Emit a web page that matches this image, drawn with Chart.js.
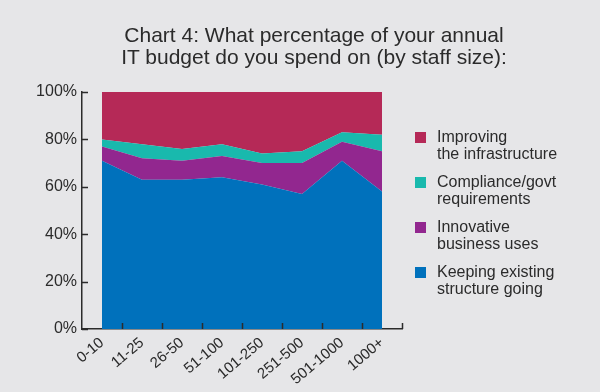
<!DOCTYPE html>
<html>
<head>
<meta charset="utf-8">
<script src="https://cdn.jsdelivr.net/npm/chart.js@4.4.1/dist/chart.umd.min.js"></script>
<style>
  body { margin: 0; background: #e6e6e8; }
  #wrap { position: relative; width: 600px; height: 392px; background: #e6e6e8; overflow: hidden;
          font-family: "Liberation Sans", Arial, sans-serif; color: #2b2b2b; }
  #title { position: absolute; left: 0; width: 628px; top: 24px; text-align: center;
           font-size: 21px; line-height: 22px; }
  #legend { position: absolute; left: 415px; top: 128px; }
  .item { position: relative; height: 45px; padding-left: 22px; font-size: 16px; line-height: 17px; }
  .sw { position: absolute; left: 0; top: 4px; width: 11px; height: 11px; }
  canvas { position: absolute; left: 0; top: 0; }
</style>
</head>
<body>
<div id="wrap">
  <canvas id="chart4" width="600" height="392"></canvas>
  <div id="title">Chart 4: What percentage of your annual<br>IT budget do you spend on (by staff size):</div>
  <div id="legend"></div>
</div>
<script>
// staff size bands
let sizes = ["0-10", "11-25", "26-50", "51-100", "101-250", "251-500", "501-1000", "1000+"];

// share of budget, in percent
let keeping = [71, 63, 63, 64, 61, 57, 71, 58];
let innovative = [6, 9, 8, 9, 9, 13, 8, 17];
let compliance = [3, 6, 5, 5, 4, 5, 4, 7];
let improving = [20, 22, 24, 22, 26, 25, 17, 18];

let yTicks = [0, 20, 40, 60, 80, 100];

let colors = {
    keeping: "#0071bc",
    innovative: "#92278f",
    compliance: "#19b9ad",
    improving: "#b52957"
};

function area(label, data, color, fill) {
    return {
        label: label,
        data: data,
        backgroundColor: color,
        borderColor: color,
        borderWidth: 0,
        pointRadius: 0,
        tension: 0,
        fill: fill
    };
}

// little tick marks pointing into the plot
let innerTicks = {
    id: "innerTicks",
    afterDraw(chart) {
        let c = chart.ctx;
        let x = chart.scales.x;
        let y = chart.scales.y;
        let area = chart.chartArea;
        c.save();
        c.strokeStyle = "#2b2b2b";
        c.lineWidth = 1.5;
        c.beginPath();
        for (let v of yTicks) {
            let py = Math.round(y.getPixelForValue(v)) + 0.5;
            c.moveTo(area.left, py);
            c.lineTo(area.left + 6, py);
        }
        for (let i = 1; i <= sizes.length; i++) {
            let px = i < sizes.length
                ? (x.getPixelForValue(i - 1) + x.getPixelForValue(i)) / 2
                : area.right;
            px = Math.round(px) + 0.5;
            c.moveTo(px, area.bottom);
            c.lineTo(px, area.bottom - 6);
        }
        c.stroke();
        c.restore();
    }
};

let ctx = document.getElementById("chart4").getContext("2d");
let chart4 = new Chart(ctx, {
    type: "line",
    data: {
        labels: sizes,
        datasets: [
            area("Keeping existing structure going", keeping, colors.keeping, "origin"),
            area("Innovative business uses", innovative, colors.innovative, "-1"),
            area("Compliance/govt requirements", compliance, colors.compliance, "-1"),
            area("Improving the infrastructure", improving, colors.improving, "-1")
        ]
    },
    options: {
        responsive: false,
        animation: false,
        devicePixelRatio: 1,
        layout: { padding: { top: 92, right: 198, left: 0, bottom: 0 } },
        plugins: { legend: { display: false }, title: { display: false }, tooltip: { enabled: false } },
        scales: {
            x: {
                offset: true,
                grid: { display: false, drawTicks: false },
                border: { display: true, color: "#2b2b2b", width: 1.5 },
                ticks: {
                    color: "#2b2b2b",
                    font: { family: "Liberation Sans", size: 15 },
                    minRotation: 40,
                    maxRotation: 40,
                    padding: 5
                },
                afterFit(s) { s.height = 63; }
            },
            y: {
                stacked: true,
                min: 0,
                max: 100,
                grid: { display: false, drawTicks: false },
                border: { display: true, color: "#2b2b2b", width: 1.5 },
                ticks: {
                    stepSize: 20,
                    color: "#2b2b2b",
                    font: { family: "Liberation Sans", size: 16 },
                    padding: 5,
                    callback: v => v + "%"
                },
                afterFit(s) { s.width = 82; }
            }
        }
    },
    plugins: [innerTicks]
});

// legend on the right, top item is the top band
let legend = document.getElementById("legend");
let legendItems = [
    ["Improving", "the infrastructure", colors.improving],
    ["Compliance/govt", "requirements", colors.compliance],
    ["Innovative", "business uses", colors.innovative],
    ["Keeping existing", "structure going", colors.keeping]
];
for (let it of legendItems) {
    let d = document.createElement("div");
    d.className = "item";
    d.innerHTML = '<span class="sw" style="background:' + it[2] + '"></span>' + it[0] + "<br>" + it[1];
    legend.appendChild(d);
}
</script>
</body>
</html>
